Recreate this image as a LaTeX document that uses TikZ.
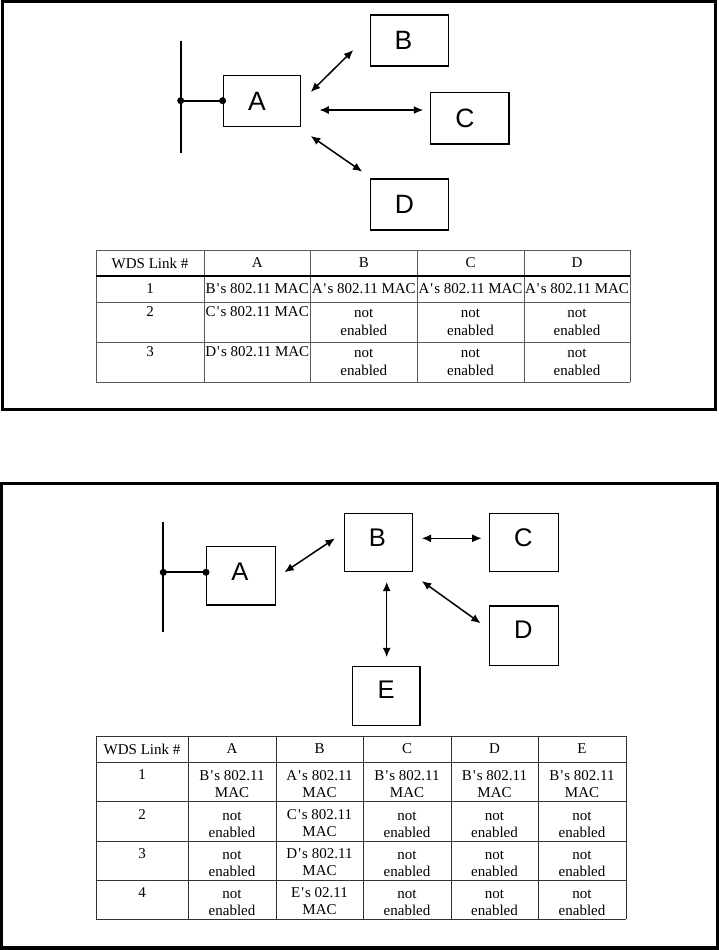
\documentclass[tikz,border=0pt]{standalone}
\usepackage{fontspec}
\setmainfont{Liberation Serif}
\newfontfamily\boxfont{Liberation Sans}
\usetikzlibrary{arrows.meta,calc}
\newcommand{\apo}{\kern1.1pt\textquotesingle\kern1.1pt}
\begin{document}
\begin{tikzpicture}[x=1pt,y=-1pt,
  frame/.style={line width=3.5pt},
  apbox/.style={draw,line width=1.4pt,inner sep=0pt},
  toplbl/.style={font=\boxfont\fontsize{26.5}{26.5}\selectfont,inner sep=0pt},
  botlbl/.style={font=\boxfont\fontsize{25.5}{25.5}\selectfont,inner sep=0pt},
  link/.style={line width=1.5pt,{Latex[length=9.5pt,width=8pt]}-{Latex[length=9.5pt,width=8pt]}},
  bus/.style={line width=1.8pt},
  junction/.style={circle,fill,inner sep=0pt,minimum size=7pt},
  tline/.style={line width=0.9pt,black!65},
  tlinetwo/.style={line width=0.9pt,black!80},
  cell/.style={inner sep=0pt,font=\fontsize{15}{18}\selectfont,align=center},
  celltwo/.style={inner sep=0pt,font=\fontsize{15}{16.5}\selectfont,align=center}]
\useasboundingbox (0,0) rectangle (719,950);

% ---------------- frames ----------------
\draw[frame] (2.7,1.75) rectangle (715.5,409.5);
\draw[frame] (1.5,483.5) rectangle (717.5,948);

% ---------------- top diagram ----------------
\node[apbox,minimum width=77.4pt,minimum height=51.4pt,
  label={[toplbl,shift={(-5,0)}]center:A}] (tA) at (262,101) {};
\node[apbox,minimum width=77.6pt,minimum height=51pt,
  label={[toplbl,shift={(-6,0)}]center:B}] (tB) at (409.5,40.5) {};
\node[apbox,minimum width=78.3pt,minimum height=51.3pt,
  label={[toplbl,shift={(-5,0)}]center:C}] (tC) at (469.85,118.35) {};
\node[apbox,minimum width=77.6pt,minimum height=51pt,
  label={[toplbl,shift={(-5,0)}]center:D}] (tD) at (409.5,204.5) {};

\coordinate (tbusT) at (180.7,40.7);
\coordinate (tbusB) at (180.7,153);
\coordinate (tbusJ) at (180.7,100.7);
\coordinate (tAJ) at (tA.west |- tbusJ);
\draw[bus] (tbusT) -- (tbusB);
\draw[bus] (tbusJ) -- (tAJ);
\node[junction] (tdot1) at (tbusJ) {};
\node[junction] (tdot2) at (tAJ) {};

\coordinate (tab1) at (310.7,92);   \coordinate (tab2) at (353.3,50);
\coordinate (tac1) at (319.3,110);  \coordinate (tac2) at (423.3,110);
\coordinate (tad1) at (310.7,136);  \coordinate (tad2) at (362.3,171.7);
\draw[link] (tab1) -- (tab2);
\draw[link] (tac1) -- (tac2);
\draw[link] (tad1) -- (tad2);

% ---------------- top table ----------------
\foreach \x in {96,204,310.5,417,524,630} \draw[tline] (\x,250) -- (\x,382);
\foreach \y in {250,302,342,382} \draw[tline] (96,\y) -- (630,\y);
\draw[line width=2.2pt] (96,276) -- (630,276);

\node[cell] (h0) at (150,263) {WDS Link \#};
\node[cell] (h1) at (257.25,263) {A};
\node[cell] (h2) at (363.75,263) {B};
\node[cell] (h3) at (470.5,263) {C};
\node[cell] (h4) at (577,263) {D};

\node[cell] (r10) at (150,289) {1};
\node[cell] (r11) at (257.25,289) {B\apo s 802.11 MAC};
\node[cell] (r12) at (363.75,289) {A\apo s 802.11 MAC};
\node[cell] (r13) at (470.5,289) {A\apo s 802.11 MAC};
\node[cell] (r14) at (577,289) {A\apo s 802.11 MAC};

\node[cell] (r20) at (150,312) {2};
\node[cell] (r21) at (257.25,312) {C\apo s 802.11 MAC};
\node[cell] (r22) at (363.75,322) {not\\enabled};
\node[cell] (r23) at (470.5,322) {not\\enabled};
\node[cell] (r24) at (577,322) {not\\enabled};

\node[cell] (r30) at (150,352) {3};
\node[cell] (r31) at (257.25,352) {D\apo s 802.11 MAC};
\node[cell] (r32) at (363.75,362) {not\\enabled};
\node[cell] (r33) at (470.5,362) {not\\enabled};
\node[cell] (r34) at (577,362) {not\\enabled};

% ---------------- bottom diagram ----------------
\node[apbox,minimum width=68.6pt,minimum height=58.3pt,
  label={[botlbl,shift={(-1,-4)}]center:A}] (bA) at (241,575.85) {};
\node[apbox,minimum width=68pt,minimum height=58.4pt,
  label={[botlbl,shift={(-1,-5)}]center:B}] (bB) at (378.3,542.5) {};
\node[apbox,minimum width=69pt,minimum height=58.4pt,
  label={[botlbl,shift={(-0.5,-5)}]center:C}] (bC) at (523.8,542.5) {};
\node[apbox,minimum width=69pt,minimum height=59.7pt,
  label={[botlbl,shift={(-0.5,-6)}]center:D}] (bD) at (523.8,635.85) {};
\node[apbox,minimum width=67.7pt,minimum height=59pt,
  label={[botlbl,shift={(0,-6)}]center:E}] (bE) at (386.15,696.2) {};

\coordinate (bbusT) at (163.3,521.7);
\coordinate (bbusB) at (163.3,631.7);
\coordinate (bbusJ) at (163.3,572.3);
\coordinate (bAJ) at (bA.west |- bbusJ);
\draw[bus] (bbusT) -- (bbusB);
\draw[bus] (bbusJ) -- (bAJ);
\node[junction] (bdot1) at (bbusJ) {};
\node[junction] (bdot2) at (bAJ) {};

\coordinate (bab1) at (284.3,572.3); \coordinate (bab2) at (335,538.3);
\coordinate (bbc1) at (421.7,538.3); \coordinate (bbc2) at (481.7,538.3);
\coordinate (bbd1) at (421.7,581);   \coordinate (bbd2) at (480.7,623.3);
\coordinate (bbe1) at (386.7,581.7); \coordinate (bbe2) at (386.7,657.3);
\draw[link] (bab1) -- (bab2);
\draw[link] (bbc1) -- (bbc2);
\draw[link] (bbd1) -- (bbd2);
\draw[link] (bbe1) -- (bbe2);

% ---------------- bottom table ----------------
\foreach \x in {96,188,276,363,451,538,626} \draw[tlinetwo] (\x,736) -- (\x,919);
\foreach \y in {736,762,801,841,880,919} \draw[tlinetwo] (96,\y) -- (626,\y);

\node[cell] (g0) at (142,749) {WDS Link \#};
\node[cell] (g1) at (232,749) {A};
\node[cell] (g2) at (319.5,749) {B};
\node[cell] (g3) at (407,749) {C};
\node[cell] (g4) at (494.5,749) {D};
\node[cell] (g5) at (582,749) {E};

\node[cell] (s10) at (142,775) {1};
\node[celltwo] (s11) at (232,784) {B\apo s 802.11\\MAC};
\node[celltwo] (s12) at (319.5,784) {A\apo s 802.11\\MAC};
\node[celltwo] (s13) at (407,784) {B\apo s 802.11\\MAC};
\node[celltwo] (s14) at (494.5,784) {B\apo s 802.11\\MAC};
\node[celltwo] (s15) at (582,784) {B\apo s 802.11\\MAC};

\node[cell] (s20) at (142,815) {2};
\node[celltwo] (s21) at (232,825) {not\\enabled};
\node[celltwo] (s22) at (319.5,823) {C\apo s 802.11\\MAC};
\node[celltwo] (s23) at (407,825) {not\\enabled};
\node[celltwo] (s24) at (494.5,825) {not\\enabled};
\node[celltwo] (s25) at (582,825) {not\\enabled};

\node[cell] (s30) at (142,854) {3};
\node[celltwo] (s31) at (232,864) {not\\enabled};
\node[celltwo] (s32) at (319.5,862) {D\apo s 802.11\\MAC};
\node[celltwo] (s33) at (407,864) {not\\enabled};
\node[celltwo] (s34) at (494.5,864) {not\\enabled};
\node[celltwo] (s35) at (582,864) {not\\enabled};

\node[cell] (s40) at (142,893) {4};
\node[celltwo] (s41) at (232,903) {not\\enabled};
\node[celltwo] (s42) at (319.5,901) {E\apo s 02.11\\MAC};
\node[celltwo] (s43) at (407,903) {not\\enabled};
\node[celltwo] (s44) at (494.5,903) {not\\enabled};
\node[celltwo] (s45) at (582,903) {not\\enabled};
\end{tikzpicture}
\end{document}
